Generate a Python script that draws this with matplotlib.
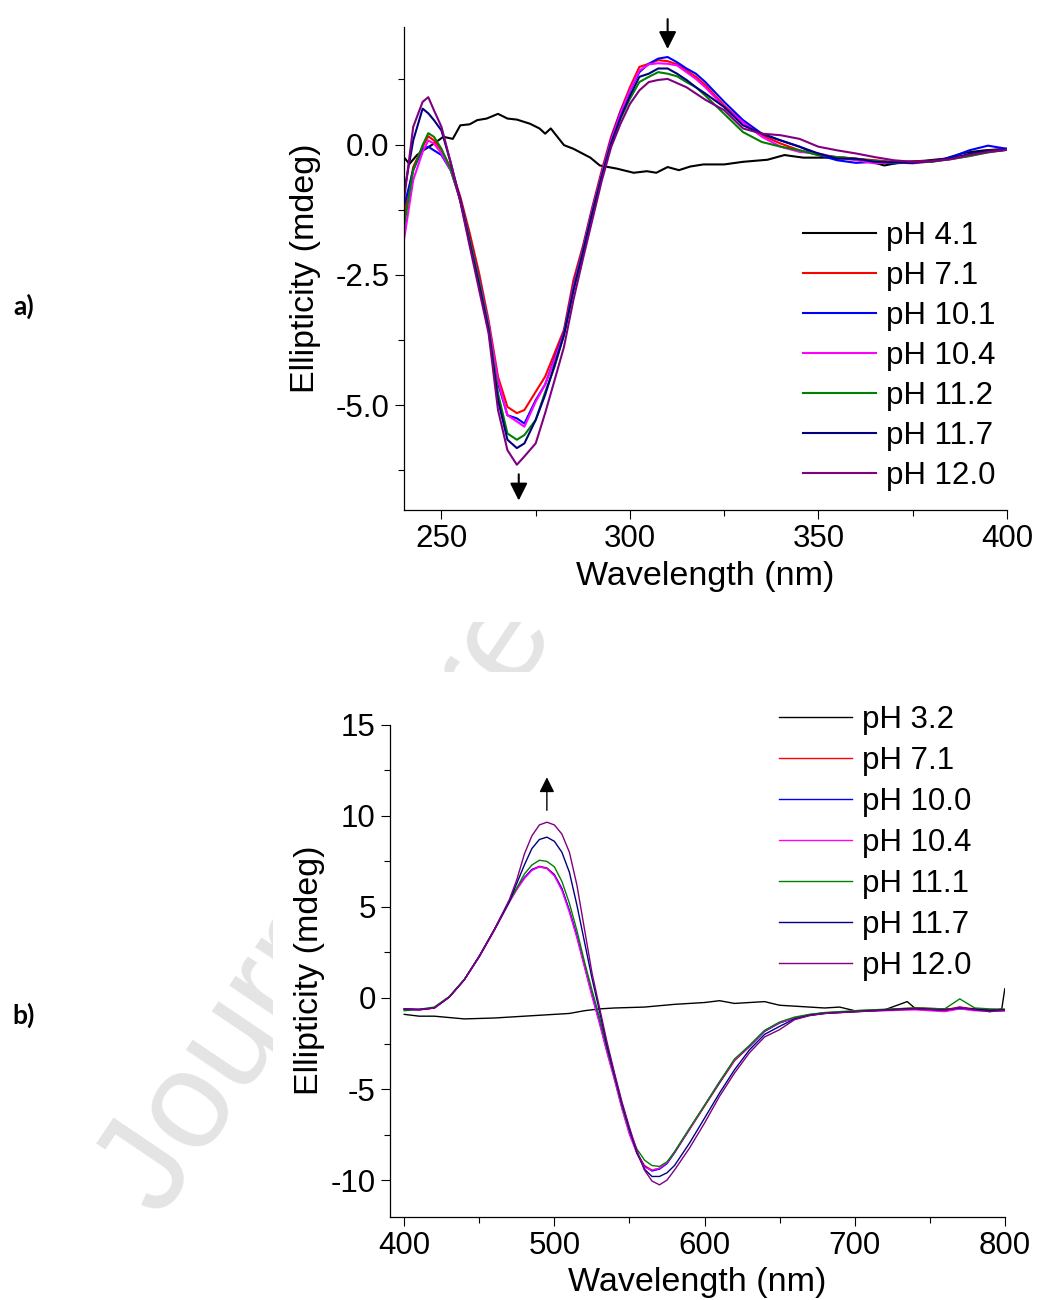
import matplotlib
matplotlib.use("Agg")
import matplotlib.pyplot as plt
import matplotlib.ticker as mticker
from matplotlib.patches import Rectangle

plt.rcParams['font.family'] = ['Liberation Sans', 'DejaVu Sans']
plt.rcParams['axes.unicode_minus'] = False

# ---------------- panel a) data ----------------
labels_a = ["pH 4.1", "pH 7.1", "pH 10.1", "pH 10.4", "pH 11.2", "pH 11.7", "pH 12.0"]

wl_a_acid = [240, 241.5, 243.5, 245, 248, 250.5, 253, 255, 257.5, 259.5, 262, 265, 267.5,
             270, 273.5, 276, 277.5, 279, 282.5, 285, 289.5, 292, 296.5, 301, 304.5, 307,
             310, 313, 316, 319.5, 325, 330, 336.5, 341, 346, 351.5, 357, 362, 367.5,
             372.5, 378, 383.5, 388.5, 394, 400]
ph41 = [-0.24, -0.37, -0.20, -0.12, 0.02, 0.15, 0.11, 0.37, 0.39, 0.47, 0.50, 0.59, 0.50,
        0.48, 0.40, 0.31, 0.21, 0.31, -0.01, -0.08, -0.25, -0.40, -0.46, -0.54, -0.51, -0.54,
        -0.43, -0.49, -0.42, -0.38, -0.38, -0.33, -0.29, -0.20, -0.25, -0.25, -0.25, -0.29,
        -0.40, -0.33, -0.31, -0.27, -0.16, -0.11, -0.08]

wl_a = [240, 242.5, 245, 246.5, 248, 250, 252.5, 255, 257.5, 260, 262.5, 265, 267.5, 270,
        272, 275, 277.5, 280, 282.5, 285, 287.5, 290, 292.5, 295, 297.5, 300, 302.5, 305,
        307.5, 310, 312.5, 315, 317.5, 320, 325, 330, 335, 340, 345, 350, 355, 360, 365,
        370, 375, 380, 385, 390, 395, 400]
ph71 = [-1.40, -0.43, -0.04, 0.16, 0.08, -0.11, -0.45, -1.00, -1.70, -2.47, -3.37, -4.45,
        -5.03, -5.15, -5.09, -4.74, -4.45, -4.00, -3.55, -2.60, -1.95, -1.20, -0.50, 0.15,
        0.65, 1.10, 1.49, 1.55, 1.62, 1.60, 1.54, 1.42, 1.30, 1.14, 0.75, 0.43, 0.18, 0.02,
        -0.11, -0.20, -0.24, -0.27, -0.30, -0.33, -0.33, -0.31, -0.26, -0.20, -0.12, -0.08]
ph101 = [-1.20, -0.49, -0.08, -0.04, -0.11, -0.20, -0.50, -1.05, -1.80, -2.58, -3.45, -4.58,
         -5.19, -5.25, -5.35, -4.90, -4.60, -4.10, -3.60, -2.70, -2.00, -1.25, -0.55, 0.10,
         0.62, 1.04, 1.39, 1.55, 1.65, 1.68, 1.58, 1.46, 1.36, 1.20, 0.82, 0.47, 0.21, 0.08,
         -0.04, -0.20, -0.30, -0.35, -0.33, -0.36, -0.34, -0.33, -0.25, -0.11, -0.02, -0.08]
ph104 = [-1.85, -0.68, -0.14, 0.08, 0.02, -0.17, -0.50, -1.07, -1.83, -2.60, -3.43, -4.52,
         -5.19, -5.31, -5.41, -4.93, -4.60, -4.13, -3.62, -2.73, -2.02, -1.26, -0.56, 0.08,
         0.60, 1.05, 1.42, 1.54, 1.56, 1.55, 1.52, 1.39, 1.26, 1.10, 0.72, 0.43, 0.15, -0.04,
         -0.14, -0.17, -0.25, -0.30, -0.36, -0.34, -0.36, -0.32, -0.28, -0.22, -0.14, -0.10]
ph112 = [-1.60, -0.49, -0.01, 0.22, 0.15, -0.08, -0.48, -1.07, -1.83, -2.62, -3.50, -4.77,
         -5.54, -5.66, -5.57, -5.28, -4.75, -4.26, -3.65, -2.78, -2.05, -1.30, -0.60, 0.02,
         0.50, 0.88, 1.20, 1.30, 1.39, 1.36, 1.31, 1.20, 1.10, 0.94, 0.59, 0.24, 0.05, -0.04,
         -0.11, -0.20, -0.24, -0.28, -0.31, -0.35, -0.34, -0.33, -0.28, -0.22, -0.15, -0.10]
ph117 = [-0.95, 0.08, 0.69, 0.60, 0.47, 0.27, -0.36, -1.07, -1.90, -2.70, -3.55, -4.90,
         -5.66, -5.82, -5.73, -5.28, -4.80, -4.23, -3.65, -2.80, -2.08, -1.32, -0.62, 0.02,
         0.52, 0.94, 1.30, 1.36, 1.46, 1.46, 1.36, 1.24, 1.10, 0.98, 0.72, 0.37, 0.21, 0.08,
         -0.04, -0.17, -0.27, -0.27, -0.33, -0.34, -0.35, -0.31, -0.27, -0.18, -0.12, -0.10]
ph120 = [-1.10, 0.34, 0.82, 0.91, 0.66, 0.34, -0.36, -1.10, -1.95, -2.79, -3.62, -5.09,
         -5.86, -6.14, -5.98, -5.73, -5.15, -4.52, -3.88, -2.98, -2.20, -1.45, -0.70, -0.05,
         0.40, 0.78, 1.04, 1.20, 1.24, 1.26, 1.18, 1.10, 0.98, 0.86, 0.66, 0.31, 0.21, 0.18,
         0.11, -0.04, -0.11, -0.17, -0.24, -0.30, -0.33, -0.32, -0.28, -0.20, -0.14, -0.10]

# ---------------- panel b) data ----------------
labels_b = ["pH 3.2", "pH 7.1", "pH 10.0", "pH 10.4", "pH 11.1", "pH 11.7", "pH 12.0"]

wl_b_acid = [400, 410, 420, 440, 460, 480, 500, 510, 520, 530, 540, 560, 580, 600, 610,
             620, 640, 650, 660, 680, 690, 700, 720, 735, 740, 760, 780, 790, 798, 800]
ph32 = [-0.90, -1.00, -1.00, -1.15, -1.10, -1.00, -0.90, -0.85, -0.70, -0.60, -0.55, -0.50,
        -0.35, -0.25, -0.15, -0.30, -0.20, -0.40, -0.45, -0.55, -0.50, -0.70, -0.65, -0.20,
        -0.55, -0.60, -0.60, -0.75, -0.60, 0.50]

wl_b = [400, 410, 420, 430, 440, 450, 460, 470, 475, 480, 485, 490, 495, 500, 505, 510,
        515, 520, 525, 530, 535, 540, 545, 550, 555, 560, 565, 570, 575, 580, 590, 600,
        610, 620, 630, 640, 650, 660, 670, 680, 700, 720, 740, 760, 770, 780, 790, 800]
b71 = [-0.60, -0.65, -0.55, 0.05, 1.00, 2.29, 3.75, 5.30, 6.00, 6.60, 7.05, 7.23, 7.14,
       6.78, 6.00, 4.80, 3.40, 1.80, 0.20, -1.30, -2.90, -4.40, -6.00, -7.40, -8.50, -9.20,
       -9.45, -9.35, -9.07, -8.50, -7.23, -5.95, -4.67, -3.45, -2.66, -1.83, -1.37, -1.10,
       -0.92, -0.82, -0.73, -0.64, -0.55, -0.64, -0.50, -0.60, -0.65, -0.62]
b100 = [-0.60, -0.62, -0.55, 0.05, 1.00, 2.30, 3.75, 5.30, 6.00, 6.60, 7.05, 7.20, 7.12,
        6.75, 6.00, 4.80, 3.40, 1.80, 0.20, -1.30, -2.90, -4.40, -6.00, -7.40, -8.50, -9.25,
        -9.50, -9.40, -9.10, -8.50, -7.20, -5.90, -4.65, -3.40, -2.66, -1.83, -1.37, -1.10,
        -0.92, -0.82, -0.75, -0.66, -0.60, -0.70, -0.55, -0.62, -0.70, -0.70]
b104 = [-0.65, -0.66, -0.55, 0.05, 1.00, 2.25, 3.70, 5.25, 5.95, 6.55, 7.00, 7.20, 7.10,
        6.70, 5.90, 4.70, 3.30, 1.70, 0.10, -1.40, -3.00, -4.50, -6.10, -7.50, -8.55, -9.30,
        -9.45, -9.35, -9.05, -8.45, -7.20, -5.90, -4.60, -3.40, -2.62, -1.80, -1.35, -1.10,
        -0.95, -0.85, -0.75, -0.70, -0.65, -0.75, -0.60, -0.70, -0.72, -0.70]
b111 = [-0.70, -0.62, -0.50, 0.08, 1.02, 2.30, 3.75, 5.30, 6.05, 6.80, 7.30, 7.56, 7.50,
        7.20, 6.40, 5.20, 3.70, 2.00, 0.45, -1.05, -2.75, -4.30, -5.90, -7.30, -8.30, -8.90,
        -9.20, -9.25, -9.00, -8.45, -7.15, -5.90, -4.60, -3.35, -2.60, -1.78, -1.32, -1.05,
        -0.90, -0.80, -0.70, -0.62, -0.55, -0.60, -0.05, -0.55, -0.60, -0.62]
b117 = [-0.62, -0.64, -0.55, 0.05, 1.00, 2.29, 3.75, 5.30, 6.30, 7.30, 8.20, 8.70, 8.83,
        8.60, 8.00, 6.90, 5.10, 3.10, 1.10, -0.70, -2.60, -4.20, -5.80, -7.20, -8.50, -9.40,
        -9.80, -9.80, -9.60, -9.20, -7.97, -6.60, -5.22, -3.94, -2.84, -2.00, -1.56, -1.15,
        -0.95, -0.85, -0.75, -0.66, -0.58, -0.66, -0.55, -0.62, -0.68, -0.65]
b120 = [-0.60, -0.64, -0.55, 0.05, 1.00, 2.29, 3.75, 5.40, 6.50, 7.90, 8.90, 9.50, 9.65,
        9.50, 9.00, 8.00, 6.20, 3.80, 1.40, -0.50, -2.40, -4.10, -5.70, -7.10, -8.40, -9.45,
        -10.05, -10.26, -10.00, -9.45, -8.24, -6.87, -5.40, -4.12, -3.00, -2.14, -1.74,
        -1.19, -0.97, -0.85, -0.76, -0.68, -0.60, -0.68, -0.50, -0.66, -0.75, -0.68]

colors = ['black', '#ff0000', '#0000ff', '#ff00ff', '#008000', '#000080', '#800080']

FS_TICK = 22.5
FS_LABEL = 24.5


def style_axis(ax):
    for side in ('top', 'right'):
        ax.spines[side].set_visible(False)
    for side in ('left', 'bottom'):
        ax.spines[side].set_linewidth(0.9)
    ax.tick_params(which='major', direction='out', length=6.5, width=0.8,
                   labelsize=FS_TICK, pad=4)
    ax.tick_params(which='minor', direction='out', length=4, width=0.8)


fig = plt.figure(figsize=(10.38, 13.0), dpi=100)

# watermark behind both panels, masked by the panel images
fig.text(0.155, 0.062, "Journal Pre-proof", rotation=56, rotation_mode='anchor',
         ha='left', va='baseline', fontsize=100, color='#e4e4e4', zorder=-2)
fig.patches.append(Rectangle((0, 1 - 622 / 1300), 1, 622 / 1300, transform=fig.transFigure,
                             facecolor='white', edgecolor='none', zorder=-1))
fig.patches.append(Rectangle((273 / 1038, 0), 1 - 273 / 1038, 1 - 672 / 1300,
                             transform=fig.transFigure, facecolor='white',
                             edgecolor='none', zorder=-1))

# ---------- panel a ----------
ax1 = fig.add_axes([0.389, 0.608, 0.581, 0.371])
series_a = [ph71, ph101, ph104, ph112, ph117, ph120]
ax1.plot(wl_a_acid, ph41, color=colors[0], lw=1.5, label=labels_a[0])
for y, c, lab in zip(series_a, colors[1:], labels_a[1:]):
    ax1.plot(wl_a, y, color=c, lw=1.5, label=lab)
ax1.set_xlim(240, 400)
ax1.set_ylim(-7.0, 2.25)
ax1.xaxis.set_major_locator(mticker.MultipleLocator(50))
ax1.xaxis.set_minor_locator(mticker.MultipleLocator(25))
ax1.yaxis.set_major_locator(mticker.MultipleLocator(2.5))
ax1.yaxis.set_minor_locator(mticker.MultipleLocator(1.25))
ax1.yaxis.set_major_formatter(mticker.FormatStrFormatter('%.1f'))
style_axis(ax1)
ax1.set_xlabel("Wavelength (nm)", fontsize=FS_LABEL, labelpad=5)
ax1.set_ylabel("Ellipticity (mdeg)", fontsize=FS_LABEL, labelpad=10)
ax1.annotate('', xy=(310, 1.78), xytext=(310, 2.46), annotation_clip=False,
             arrowprops=dict(arrowstyle='-|>,head_length=0.7,head_width=0.35',
                             color='black', lw=1.5, mutation_scale=15))
ax1.annotate('', xy=(270.5, -6.88), xytext=(270.5, -6.27), annotation_clip=False,
             arrowprops=dict(arrowstyle='-|>,head_length=0.7,head_width=0.35',
                             color='black', lw=1.5, mutation_scale=15))
ax1.legend(loc='upper left', bbox_to_anchor=(0.7736, 0.830), bbox_transform=fig.transFigure,
           frameon=False, borderpad=0, borderaxespad=0, fontsize=FS_TICK,
           handlelength=2.34, handletextpad=0.32, labelspacing=0.32)

# ---------- panel b ----------
ax2 = fig.add_axes([0.376, 0.0642, 0.592, 0.3783])
series_b = [b71, b100, b104, b111, b117, b120]
ax2.plot(wl_b_acid, ph32, color=colors[0], lw=1.0, label=labels_b[0])
for y, c, lab in zip(series_b, colors[1:], labels_b[1:]):
    ax2.plot(wl_b, y, color=c, lw=1.0, label=lab)
ax2.set_xlim(390.7, 800)
ax2.set_ylim(-12, 15)
ax2.xaxis.set_major_locator(mticker.MultipleLocator(100))
ax2.xaxis.set_minor_locator(mticker.MultipleLocator(50))
ax2.yaxis.set_major_locator(mticker.MultipleLocator(5))
ax2.yaxis.set_minor_locator(mticker.MultipleLocator(2.5))
style_axis(ax2)
ax2.set_xlabel("Wavelength (nm)", fontsize=FS_LABEL, labelpad=4)
ax2.set_ylabel("Ellipticity (mdeg)", fontsize=FS_LABEL, labelpad=4)
ax2.annotate('', xy=(495, 12.27), xytext=(495, 10.15), annotation_clip=False,
             arrowprops=dict(arrowstyle='-|>,head_length=0.7,head_width=0.35',
                             color='black', lw=1.0, mutation_scale=13))
ax2.legend(loc='upper left', bbox_to_anchor=(0.7505, 0.4575), bbox_transform=fig.transFigure,
           frameon=False, borderpad=0, borderaxespad=0, fontsize=FS_TICK,
           handlelength=2.34, handletextpad=0.32, labelspacing=0.35)

# panel letters
fig.text(24 / 1038, 1 - 306 / 1300, "a)", family=['Lato', 'DejaVu Sans'], fontweight='bold',
         fontsize=19, ha='center', va='center')
fig.text(24 / 1038, 1 - 1015 / 1300, "b)", family=['Lato', 'DejaVu Sans'], fontweight='bold',
         fontsize=19, ha='center', va='center')

fig.savefig("out.png", dpi=100)
